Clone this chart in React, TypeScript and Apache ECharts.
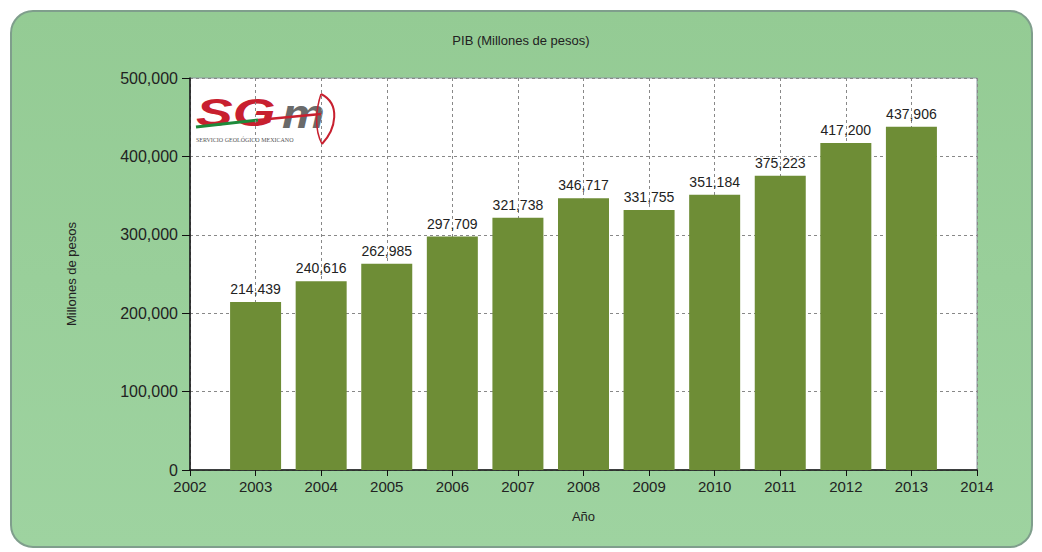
import React, { useEffect, useRef } from "react";
import * as echarts from "echarts";

const years = [2003, 2004, 2005, 2006, 2007, 2008, 2009, 2010, 2011, 2012, 2013];
const pib = [214439, 240616, 262985, 297709, 321738, 346717, 331755, 351184, 375223, 417200, 437906];
const title = "PIB (Millones de pesos)";
const yName = "Millones de pesos";
const xName = "Año";

export default function App() {
  const ref = useRef<HTMLDivElement>(null);
  useEffect(() => {
    const chart = echarts.init(ref.current!, undefined, { renderer: "svg" });
    const fmt = (v: number) => v.toLocaleString("en-US");
    chart.setOption({
      animation: false,
      backgroundColor: "#ffffff",
      textStyle: { fontFamily: "Liberation Sans, Arial, sans-serif" },
      graphic: [
        {
          type: "rect",
          z: -10,
          silent: true,
          shape: { x: 11, y: 11, width: 1021, height: 536, r: 22 },
          style: {
            fill: new echarts.graphic.LinearGradient(0, 0, 0, 1, [
              { offset: 0, color: "#94cb94" },
              { offset: 1, color: "#9ed3a0" },
            ]),
            stroke: "#7f9e8c",
            lineWidth: 2,
          },
        },
        {
          type: "text",
          left: "center",
          top: 34,
          style: { text: title, fontSize: 13, fill: "#222", fontFamily: "Liberation Sans, Arial, sans-serif" },
        },
        {
          type: "group",
          x: 196,
          y: 94,
          z: 20,
          children: [
            {
              type: "text",
              x: 0,
              y: 0,
              scaleX: 1.45,
              style: {
                text: "SG",
                fontSize: 38,
                fontStyle: "italic",
                fontWeight: "bold",
                fill: "#c8202f",
                fontFamily: "Liberation Sans, Arial, sans-serif",
              },
            },
            {
              type: "text",
              x: 86,
              y: 0,
              scaleX: 1.2,
              style: {
                text: "m",
                fontSize: 40,
                fontStyle: "italic",
                fontWeight: "bold",
                fill: "#6a6a6a",
                fontFamily: "Liberation Sans, Arial, sans-serif",
              },
            },
            {
              type: "line",
              shape: { x1: 0, y1: 33, x2: 62, y2: 26 },
              style: { stroke: "#1d8a3a", lineWidth: 3 },
            },
            {
              type: "line",
              shape: { x1: 62, y1: 26, x2: 125, y2: 20 },
              style: { stroke: "#c8202f", lineWidth: 2.5 },
            },
            {
              type: "bezierCurve",
              shape: { x1: 125, y1: 0, cpx1: 145, cpy1: 10, x2: 126, y2: 50, cpx2: 140, cpy2: 35 },
              style: { stroke: "#c8202f", lineWidth: 2, fill: "none" },
            },
            {
              type: "bezierCurve",
              shape: { x1: 125, y1: 0, cpx1: 120, cpy1: 15, x2: 126, y2: 50, cpx2: 118, cpy2: 35 },
              style: { stroke: "#c8202f", lineWidth: 1.5, fill: "none" },
            },
            {
              type: "text",
              x: 0,
              y: 43,
              style: {
                text: "SERVICIO GEOLÓGICO MEXICANO",
                fontSize: 6,
                fill: "#555",
                fontFamily: "Liberation Serif, serif",
              },
            },
          ],
        },
      ],
      grid: { left: 190, right: 65, top: 78, bottom: 82, show: true, backgroundColor: "#ffffff", borderColor: "#8a9aa0", borderWidth: 1 },
      xAxis: {
        type: "value",
        min: 2002,
        max: 2014,
        interval: 1,
        name: xName,
        nameLocation: "middle",
        nameGap: 40,
        nameTextStyle: { fontSize: 13, color: "#222" },
        axisLine: { show: true, lineStyle: { color: "#111", width: 1.5 } },
        axisTick: { show: true, length: 6, lineStyle: { color: "#111" } },
        axisLabel: { fontSize: 15, color: "#222", margin: 9, formatter: (v: number) => String(v) },
        splitLine: { show: true, lineStyle: { color: "#888", type: [3, 3] } },
      },
      yAxis: {
        type: "value",
        min: 0,
        max: 500000,
        interval: 100000,
        name: yName,
        nameLocation: "middle",
        nameGap: 112,
        nameTextStyle: { fontSize: 13, color: "#222" },
        axisLine: { show: true, lineStyle: { color: "#111", width: 1.5 } },
        axisTick: { show: true, length: 8, lineStyle: { color: "#111" } },
        axisLabel: { fontSize: 16, color: "#222", margin: 12, formatter: (v: number) => fmt(v) },
        splitLine: { show: true, lineStyle: { color: "#888", type: [3, 3] } },
      },
      series: [
        {
          type: "bar",
          data: years.map((y, i) => [y, pib[i]]),
          barWidth: 51,
          itemStyle: { color: "#6e8d36" },
          label: {
            show: true,
            position: "top",
            distance: 6,
            fontSize: 14,
            color: "#222",
            formatter: (p: any) => fmt(p.value[1]),
          },
        },
      ],
    });
    return () => chart.dispose();
  }, []);
  return <div ref={ref} style={{ position: "fixed", left: 0, top: 0, width: 1042, height: 552 }} />;
}
